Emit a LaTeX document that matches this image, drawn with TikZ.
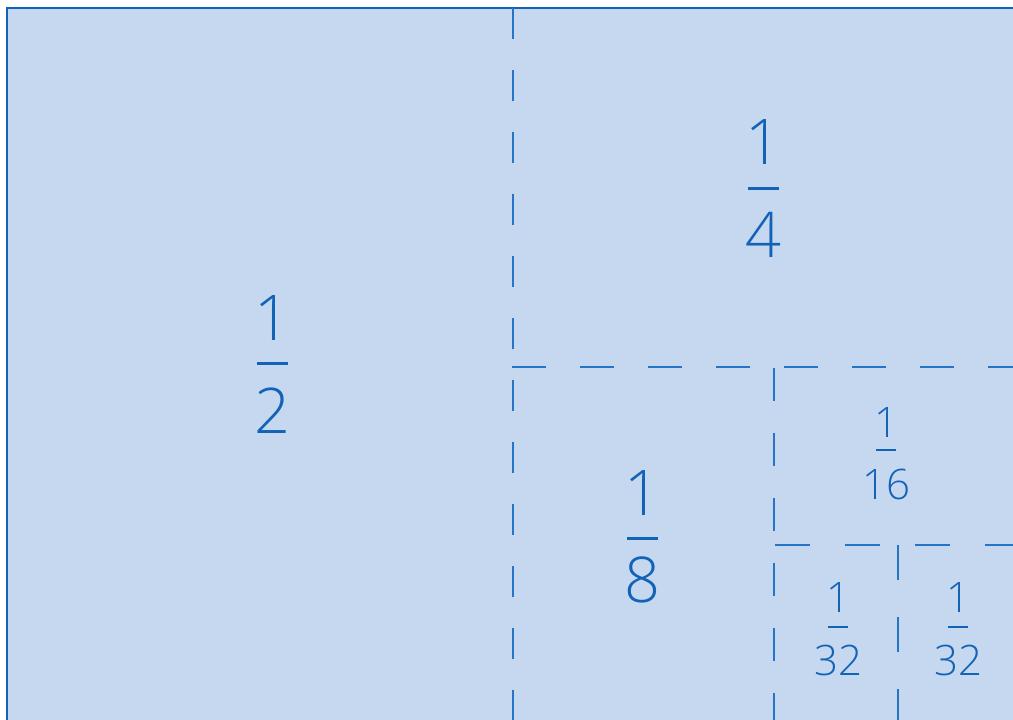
\documentclass[tikz,border=0pt]{standalone}
\usepackage{fontspec}
\setmainfont{Open Sans}[UprightFont={* Light}]
\definecolor{fillblue}{RGB}{197,216,239}
\definecolor{inkblue}{RGB}{18,98,184}
\definecolor{dashblue}{RGB}{40,116,196}
\begin{document}
\begin{tikzpicture}[x=1pt,y=-1pt,
  dline/.style={draw=dashblue,line width=1.8pt},
  bigdig/.style={inner sep=0pt,anchor=base,text=inkblue,font=\fontsize{63}{63}\selectfont},
  smalldig/.style={inner sep=0pt,anchor=base,text=inkblue,font=\fontsize{42}{42}\selectfont},
  fbar/.style={draw=inkblue}]
\useasboundingbox (0,0) rectangle (1013,720);
\clip (0,0) rectangle (1013,720);
\fill[white] (0,0) rectangle (1013,720);
\draw[fill=fillblue,draw=inkblue,line width=2pt] (7,8) rectangle (1030,740);
% dashed dividers
\draw[dline,dash pattern=on 31pt off 31pt] (513,8) -- (513,730);
\draw[dline,dash pattern=on 34pt off 34pt] (512,367) -- (1030,367);
\draw[dline,dash pattern=on 32.5pt off 32.5pt] (774,368) -- (774,730);
\draw[dline,dash pattern=on 35pt off 35pt] (775,545) -- (1030,545);
\draw[dline,dash pattern=on 35pt off 37pt] (898,545) -- (898,730);
% 1/2
\node[bigdig] (n2) at (272,340) {1};
\draw[fbar,line width=3pt] (257,363) -- (288,363);
\node[bigdig] (d2) at (272,433) {2};
% 1/4
\node[bigdig] (n4) at (763,164) {1};
\draw[fbar,line width=3pt] (748,188) -- (779,188);
\node[bigdig] (d4) at (763,257) {4};
% 1/8
\node[bigdig] (n8) at (642,515) {1};
\draw[fbar,line width=3pt] (627,538) -- (658,538);
\node[bigdig] (d8) at (642,602) {8};
% 1/16
\node[smalldig] (n16) at (886,437) {1};
\draw[fbar,line width=2pt] (876,450) -- (896,450);
\node[smalldig] (d16) at (886,499) {16};
% 1/32 left
\node[smalldig] (n32a) at (838,612) {1};
\draw[fbar,line width=2pt] (828,627) -- (848,627);
\node[smalldig] (d32a) at (838,675) {32};
% 1/32 right
\node[smalldig] (n32b) at (958,612) {1};
\draw[fbar,line width=2pt] (948,627) -- (968,627);
\node[smalldig] (d32b) at (958,675) {32};
\end{tikzpicture}
\end{document}
